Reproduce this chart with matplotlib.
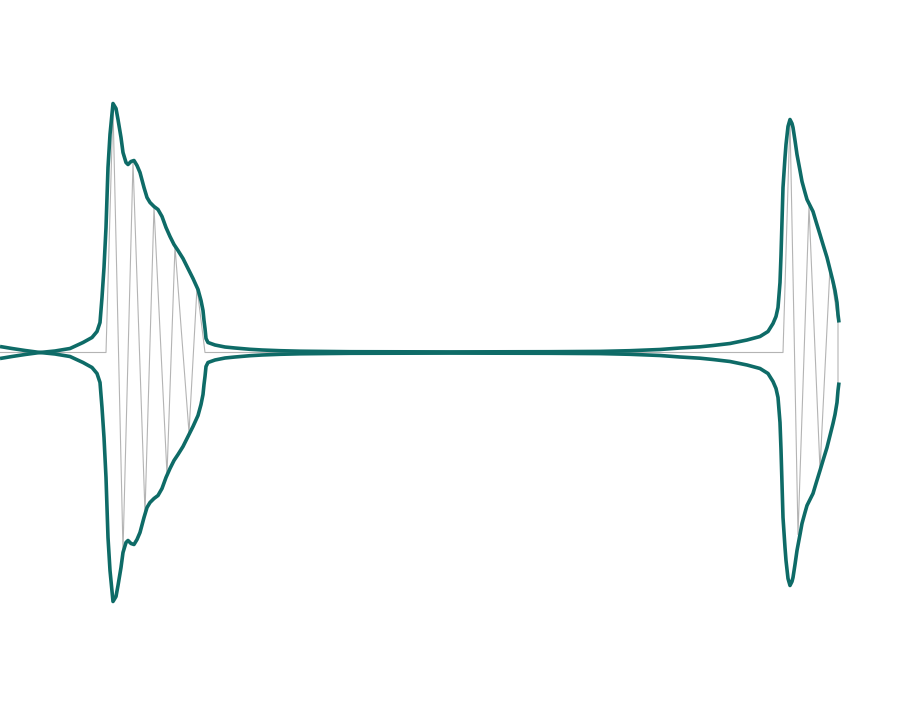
import matplotlib
matplotlib.use("Agg")
import matplotlib.pyplot as plt
import numpy as np

# envelope (half amplitude)
env_x = [0, 12, 25, 40, 55, 70, 83, 92, 97, 100, 102, 104, 106, 108, 110, 113, 116, 118,
         121, 123, 126, 128, 131, 134, 137, 140, 144, 147, 150, 154, 158, 162, 166, 170,
         174, 178, 183, 188, 193, 198, 201, 203, 204, 205, 206, 208, 215, 225, 235, 250,
         262, 280, 300, 350, 450, 550, 600, 630, 660, 680, 700, 713, 730, 747, 760, 768,
         773, 776, 778, 780, 781, 783, 785, 786, 788, 790, 792, 793, 795, 797, 800, 802,
         805, 807, 810, 813, 816, 820, 823, 827, 830, 833, 835, 837, 838, 839]
env_h = [-6, -4, -2, 0, 1.5, 4, 10, 15, 21, 30, 55, 85, 125, 185, 218, 249, 244, 233,
         215, 200, 190, 188, 191, 192, 187, 180, 165, 155, 150, 146, 143, 136, 125, 116,
         108, 102, 94, 84, 74, 63, 52, 42, 32, 24, 14, 10, 7.5, 5.5, 4.5, 3.2,
         2.5, 1.8, 1.3, 0.8, 0.6, 0.8, 1.1, 1.8, 3, 4.5, 5.7, 7, 9, 12.5, 16, 21,
         29, 36, 45, 70, 97, 165, 195, 208, 226, 233, 229, 225, 212, 198, 182, 171,
         160, 153, 147, 141, 131, 118, 108, 95, 83, 71, 62, 50, 38, 30]

# raw signal (thin grey trace)
sig_x = [0, 106, 113, 123, 133, 145, 154, 167, 175, 189, 197, 205,
         783, 790, 798, 809, 820, 830, 838, 838]
sig_y = [0, 0, 245, -198, 190, -160, 145, -122, 106, -80, 65, 0,
         0, 233, -182, 146, -117, 85, 30, -30]

teal = "#0e6b67"

fig = plt.figure(figsize=(9.04, 7.07), dpi=100)
ax = fig.add_axes([0, 0, 1, 1])

ax.plot(sig_x, sig_y, color="#b4b4b4", lw=0.8, zorder=1)

h = np.array(env_h)
ax.plot(env_x, h, color=teal, lw=2.6, zorder=2, solid_capstyle="butt")
ax.plot(env_x, -h, color=teal, lw=2.6, zorder=2, solid_capstyle="butt")

ax.set_xlim(0, 904)
ax.set_ylim(-354.5, 352.5)
ax.axis("off")

fig.savefig("out.png", dpi=100, facecolor="white")
